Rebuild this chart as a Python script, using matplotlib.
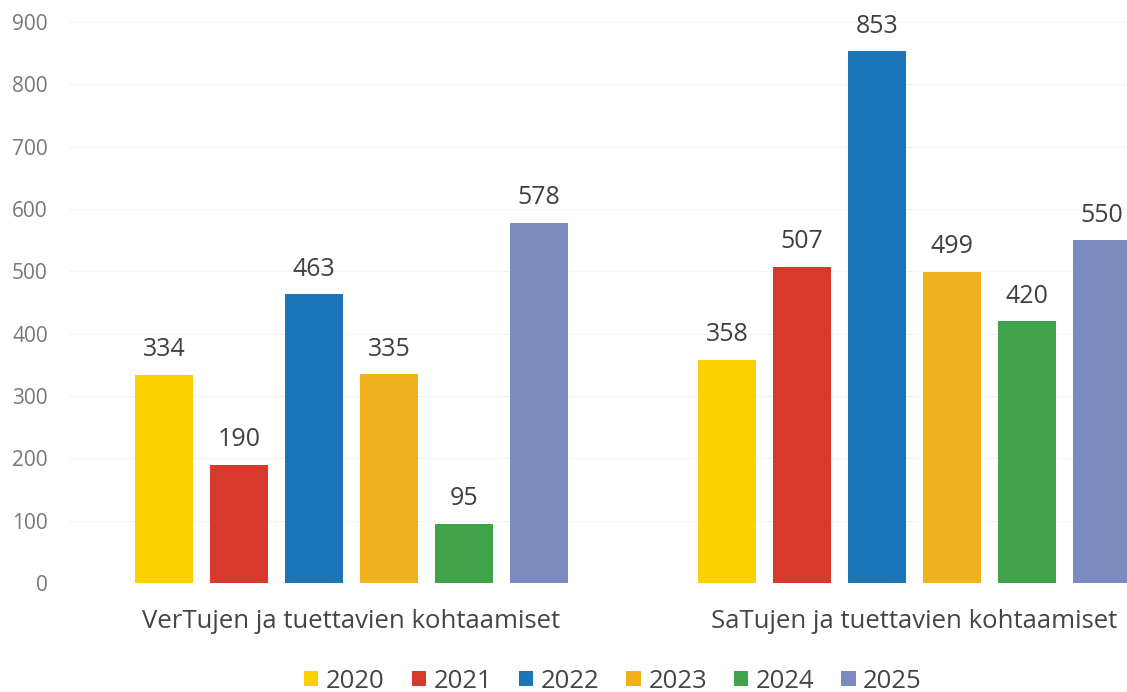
import matplotlib
matplotlib.use('Agg')
import matplotlib.pyplot as plt
import numpy as np

# data
categories = ["VerTujen ja tuettavien kohtaamiset", "SaTujen ja tuettavien kohtaamiset"]
years = ["2020", "2021", "2022", "2023", "2024", "2025"]
values = {
    "2020": [334, 358],
    "2021": [190, 507],
    "2022": [463, 853],
    "2023": [335, 499],
    "2024": [95, 420],
    "2025": [578, 550],
}
colors = ["#FDD000", "#D7392D", "#1B75B6", "#F1B11C", "#40A349", "#7B8BBF"]

plt.rcParams['font.family'] = ['Open Sans', 'DejaVu Sans']

W, H = 1127, 692
fig = plt.figure(figsize=(W / 100, H / 100), dpi=100)
# plot area runs past the right edge, like the cropped original
ax = fig.add_axes([70 / W, (H - 583) / H, 1126 / W, (583 - 22) / H])

x = np.arange(len(categories))
step = 0.1333
width = 0.103
for i, (yr, col) in enumerate(zip(years, colors)):
    pos = x + (i - 2.5) * step
    bars = ax.bar(pos, values[yr], width, color=col, label=yr, zorder=3)
    for b, v in zip(bars, values[yr]):
        ax.annotate(str(v), (b.get_x() + b.get_width() / 2, v),
                    xytext=(0, 9), textcoords='offset points',
                    ha='center', va='bottom', fontsize=18, color='#404040')

ax.set_xlim(-0.5, 1.5)
ax.set_ylim(0, 900)
ax.set_yticks(range(0, 901, 100))
ax.tick_params(axis='y', length=0, labelsize=15, labelcolor='#777777', pad=16)
ax.set_xticks(x)
ax.set_xticklabels(categories, fontsize=18.5, color='#454545')
ax.tick_params(axis='x', length=0, pad=19)
ax.grid(axis='y', color='#f2f2f2', linewidth=0.8, zorder=0)
for s in ax.spines.values():
    s.set_visible(False)

fig.legend(loc='center', bbox_to_anchor=(613 / W, (H - 681) / H), ncol=6,
           frameon=False, fontsize=18.5, handlelength=0.55, handleheight=0.55,
           handletextpad=0.3, columnspacing=1.05, labelcolor='#454545')

fig.savefig('out.png', dpi=100)
